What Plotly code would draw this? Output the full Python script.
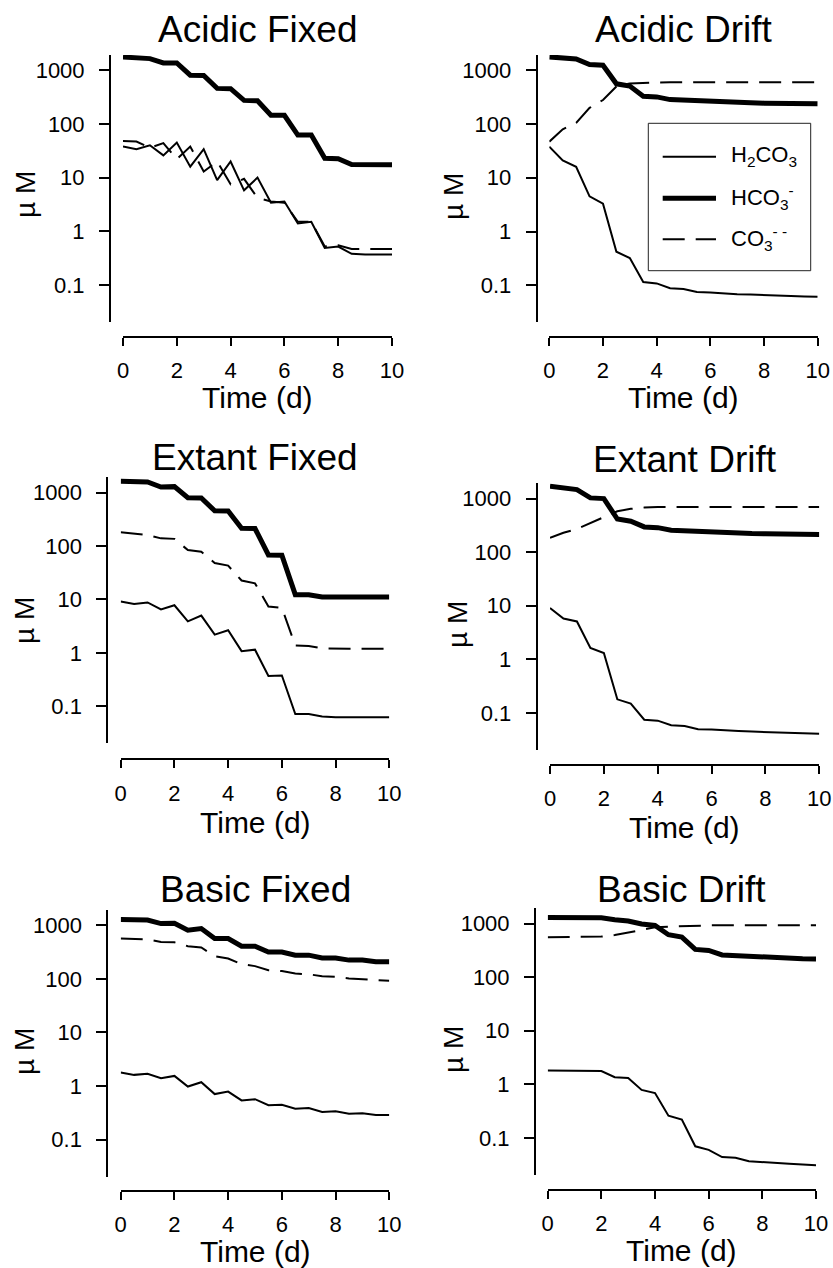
import plotly.graph_objects as go

# ---------------- data ----------------
time_d = [0.0, 0.5, 1.0, 1.5, 2.0, 2.5, 3.0, 3.5, 4.0, 4.5, 5.0,
          5.5, 6.0, 6.5, 7.0, 7.5, 8.0, 8.5, 9.0, 9.5, 10.0]

x_ticks = [0, 2, 4, 6, 8, 10]
y_ticks = [0.1, 1, 10, 100, 1000]
y_ticktext = ["0.1", "1", "10", "100", "1000"]

panel_titles = ["Acidic Fixed", "Acidic Drift", "Extant Fixed",
                "Extant Drift", "Basic Fixed", "Basic Drift"]

acidic_fixed_h2co3 = [38, 34, 40, 26, 45, 16, 34, 9, 20, 5.8, 10, 3.4, 3.6, 1.4, 1.5, 0.49, 0.52, 0.38, 0.37, 0.37, 0.37]
acidic_fixed_hco3 = [1766, 1700, 1650, 1370, 1370, 810, 800, 460, 455, 275, 270, 146, 145, 62, 62, 23, 22.5, 17.5, 17.3, 17.3, 17.3]
acidic_fixed_co3 = [48, 47, 36, 44, 22, 38, 13, 20, 7.5, 9.5, 4.2, 3.6, 3.4, 1.5, 1.5, 0.52, 0.55, 0.47, 0.47, 0.47, 0.47]

acidic_drift_h2co3 = [38, 21, 16, 4.5, 3.3, 0.42, 0.32, 0.115, 0.108, 0.088, 0.085, 0.075, 0.073, 0.070, 0.068, 0.067, 0.065, 0.064, 0.063, 0.062, 0.061]
acidic_drift_hco3 = [1776, 1700, 1630, 1280, 1240, 560, 510, 330, 320, 285, 278, 260, 255, 252, 250, 248, 245, 243, 241, 240, 238]
acidic_drift_co3 = [47, 80, 105, 200, 280, 500, 570, 590, 595, 597, 598, 598, 598, 598, 598, 598, 598, 598, 598, 598, 598]

extant_fixed_h2co3 = [9.2, 8.2, 8.8, 6.5, 7.8, 3.9, 5.0, 2.2, 2.66, 1.08, 1.15, 0.37, 0.38, 0.072, 0.072, 0.065, 0.063, 0.063, 0.063, 0.063, 0.063]
extant_fixed_hco3 = [1620, 1600, 1580, 1270, 1290, 800, 790, 455, 450, 214, 212, 68, 67, 12.3, 12.3, 11.1, 11.1, 11.1, 11.1, 11.1, 11.1]
extant_fixed_co3 = [180, 170, 160, 139, 136, 84, 78, 48, 43, 22.6, 20, 7.4, 7.0, 1.38, 1.35, 1.22, 1.2, 1.2, 1.2, 1.2, 1.2]

extant_drift_h2co3 = [9.1, 5.8, 5.1, 1.64, 1.32, 0.18, 0.15, 0.075, 0.072, 0.059, 0.057, 0.050, 0.049, 0.047, 0.046, 0.045, 0.044, 0.043, 0.042, 0.042, 0.041]
extant_drift_hco3 = [1700, 1600, 1470, 1030, 1000, 415, 378, 296, 287, 257, 250, 235, 230, 228, 225, 222, 220, 218, 216, 214, 213]
extant_drift_co3 = [185, 230, 272, 352, 447, 580, 643, 680, 695, 700, 700, 700, 700, 700, 700, 700, 700, 700, 700, 700, 700]

basic_fixed_h2co3 = [1.79, 1.62, 1.70, 1.40, 1.55, 0.98, 1.18, 0.71, 0.79, 0.54, 0.57, 0.44, 0.45, 0.38, 0.39, 0.33, 0.34, 0.305, 0.31, 0.29, 0.29]
basic_fixed_hco3 = [1275, 1260, 1250, 1075, 1090, 807, 870, 565, 565, 408, 408, 318, 318, 277, 277, 246, 246, 224, 224, 208, 208]
basic_fixed_co3 = [565, 555, 545, 490, 480, 408, 385, 265, 240, 188, 173, 145, 140, 126, 122, 112, 109, 102, 99, 95, 92]

basic_drift_h2co3 = [1.82, 1.81, 1.80, 1.79, 1.78, 1.36, 1.32, 0.79, 0.69, 0.26, 0.22, 0.070, 0.060, 0.044, 0.043, 0.037, 0.036, 0.034, 0.033, 0.032, 0.031]
basic_drift_hco3 = [1300, 1300, 1295, 1290, 1280, 1180, 1120, 980, 920, 620, 560, 330, 315, 260, 252, 240, 235, 228, 224, 220, 218]
basic_drift_co3 = [556, 558, 560, 565, 572, 610, 680, 760, 850, 875, 900, 915, 925, 930, 935, 935, 935, 935, 935, 935, 935]

species_labels = ["H<sub>2</sub>CO<sub>3</sub>", "HCO<sub>3</sub><sup>-</sup>", "CO<sub>3</sub><sup>- -</sup>"]

panel_series = [
    (acidic_fixed_h2co3, acidic_fixed_hco3, acidic_fixed_co3),
    (acidic_drift_h2co3, acidic_drift_hco3, acidic_drift_co3),
    (extant_fixed_h2co3, extant_fixed_hco3, extant_fixed_co3),
    (extant_drift_h2co3, extant_drift_hco3, extant_drift_co3),
    (basic_fixed_h2co3, basic_fixed_hco3, basic_fixed_co3),
    (basic_drift_h2co3, basic_drift_hco3, basic_drift_co3),
]

# ---------------- geometry (pixels) ----------------
W, H = 833, 1268
# x0, x1, ytop, ybot, yaxis_x, xaxis_y, title_y, xtitle_y, ylabel_x, ylabel_y
GEOM = [
    (123.0, 392.0, 55.0, 322.0, 110.0, 337.0, 30, 397, 26, 195),
    (549.3, 817.7, 55.0, 322.3, 536.7, 337.0, 30, 397, 453, 197),
    (120.7, 389.3, 477.3, 743.3, 107.3, 759.3, 457, 822, 24, 621),
    (550.0, 819.3, 483.3, 750.0, 536.7, 765.0, 460, 827, 457, 625),
    (120.7, 389.3, 910.0, 1176.7, 107.3, 1191.0, 889, 1251, 24, 1052),
    (547.7, 816.0, 908.3, 1175.0, 535.0, 1190.0, 889, 1250, 453, 1050),
]
Y_RANGE = [-1.69, 3.285]
FONT = "Liberation Sans, Arial, Helvetica, sans-serif"
STYLES = [dict(color="black", width=2),
          dict(color="black", width=5),
          dict(color="black", width=2, dash="22px,11px")]


def fx(p):
    return p / W


def fy(p):
    return 1 - p / H


fig = go.Figure()
annotations = []
shapes = []
layout_axes = {}

for i, (title, series) in enumerate(zip(panel_titles, panel_series)):
    n = i + 1
    sfx = "" if n == 1 else str(n)
    x0, x1, yt, yb, yax, xay, ty, xty, ylx, yly = GEOM[i]
    for vals, st in zip(series, STYLES):
        fig.add_trace(go.Scatter(x=time_d, y=vals, mode="lines", line=st,
                                 xaxis="x" + sfx, yaxis="y" + sfx,
                                 showlegend=False, hoverinfo="skip"))
    layout_axes["xaxis" + sfx] = dict(
        domain=[fx(x0), fx(x1)], range=[0, 10], anchor="free", position=fy(xay),
        tickvals=x_ticks, showline=True, linecolor="black", linewidth=2,
        ticks="outside", ticklen=8, tickwidth=2, tickcolor="black",
        showgrid=False, zeroline=False, ticklabelstandoff=6, automargin=False,
        tickfont=dict(family=FONT, size=22, color="black"))
    layout_axes["yaxis" + sfx] = dict(
        domain=[fy(yb), fy(yt)], type="log", range=Y_RANGE, anchor="free",
        position=fx(yax), tickvals=y_ticks, ticktext=y_ticktext,
        showline=True, linecolor="black", linewidth=2,
        ticks="outside", ticklen=10, tickwidth=2, tickcolor="black",
        showgrid=False, zeroline=False, ticklabelstandoff=10, automargin=False,
        tickfont=dict(family=FONT, size=22, color="black"))
    annotations.append(dict(text=title, x=fx((x0 + x1) / 2), y=fy(ty),
                            xref="paper", yref="paper", showarrow=False,
                            xanchor="center", yanchor="middle",
                            font=dict(family=FONT, size=37, color="black")))
    annotations.append(dict(text="Time (d)", x=fx((x0 + x1) / 2), y=fy(xty),
                            xref="paper", yref="paper", showarrow=False,
                            xanchor="center", yanchor="middle",
                            font=dict(family=FONT, size=30, color="black")))
    annotations.append(dict(text="µ M", x=fx(ylx), y=fy(yly), textangle=-90,
                            xref="paper", yref="paper", showarrow=False,
                            xanchor="center", yanchor="middle",
                            font=dict(family=FONT, size=28, color="black")))

# legend (in Acidic Drift panel)
LEG_BOX = (648.3, 810.7, 123.3, 270.7)
LEG_ROWS = [156.7, 198.3, 239.3]
shapes.append(dict(type="rect", xref="paper", yref="paper",
                   x0=fx(LEG_BOX[0]), x1=fx(LEG_BOX[1]),
                   y0=fy(LEG_BOX[3]), y1=fy(LEG_BOX[2]),
                   line=dict(color="#222", width=1), fillcolor="rgba(0,0,0,0)"))
for lab, st, ry in zip(species_labels, STYLES, LEG_ROWS):
    shapes.append(dict(type="line", xref="paper", yref="paper",
                       x0=fx(662.7), x1=fx(716.0), y0=fy(ry), y1=fy(ry), line=st))
    annotations.append(dict(text=lab, x=fx(729), y=fy(ry - 1), xref="paper",
                            yref="paper", showarrow=False, xanchor="left",
                            yanchor="middle",
                            font=dict(family=FONT, size=22, color="black")))

fig.update_layout(
    width=W, height=H, autosize=False, margin=dict(l=0, r=0, t=0, b=0, pad=0),
    paper_bgcolor="white", plot_bgcolor="white", showlegend=False,
    annotations=annotations, shapes=shapes, **layout_axes)

fig.write_html("out.html",
               config={"displayModeBar": False, "responsive": False},
               post_script="document.body.style.margin='0px';document.body.style.overflow='hidden';")
